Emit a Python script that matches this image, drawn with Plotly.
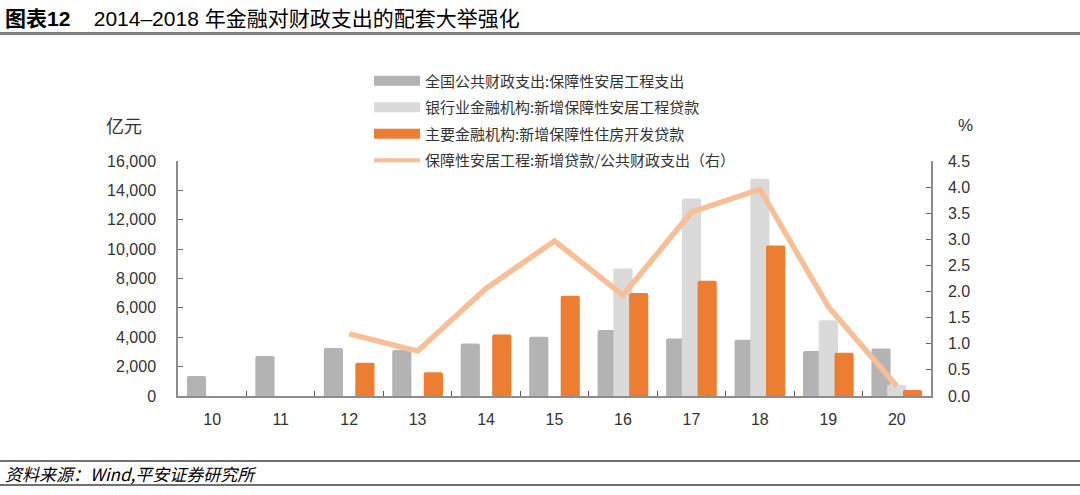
import plotly.graph_objects as go

categories = ["10", "11", "12", "13", "14", "15", "16", "17", "18", "19", "20"]
fiscal_spend = [1360, 2720, 3260, 3130, 3580, 4030, 4490, 3920, 3830, 3060, 3240]
bank_loans = [None, None, None, None, None, None, 8680, 13440, 14800, 5150, 750]
major_loans = [None, None, 2260, 1610, 4190, 6820, 7020, 7840, 10250, 2950, 410]
ratio = [None, None, 1.19, 0.86, 2.06, 2.97, 1.93, 3.52, 3.96, 1.71, 0.19]

names = [
    "全国公共财政支出:保障性安居工程支出",
    "银行业金融机构:新增保障性安居工程贷款",
    "主要金融机构:新增保障性住房开发贷款",
    "保障性安居工程:新增贷款/公共财政支出（右）",
]
C_GRAY = "#B3B3B3"
C_LGRAY = "#DADADA"
C_ORANGE = "#ED7D31"
C_LINE = "#F8BE96"

FONT = "Liberation Sans, Arial, Noto Sans CJK SC, sans-serif"
CJK = "Noto Sans CJK SC, Liberation Sans, sans-serif"

PH = 235.3  # plot height px (for placing header/footer decorations)


def py(px):
    return (396 - px) / PH


def px_x(px):
    return (px - 178) / 753


fig = go.Figure()
W = 0.28
for vals, col, off in [(fiscal_spend, C_GRAY, -0.37), (bank_loans, C_LGRAY, -0.14), (major_loans, C_ORANGE, 0.09)]:
    fig.add_trace(go.Bar(x=categories, y=vals, width=W, offset=off,
                         marker=dict(color=col, line=dict(width=0), cornerradius=2),
                         showlegend=False, hoverinfo="skip"))

fig.add_trace(go.Scatter(x=categories, y=ratio, yaxis="y2", mode="lines",
                         line=dict(color=C_LINE, width=5.5), showlegend=False))

# legend entries
for i, (nm, col, w) in enumerate([(names[0], C_GRAY, 11), (names[1], C_LGRAY, 11),
                                  (names[2], C_ORANGE, 11), (names[3], C_LINE, 4)]):
    fig.add_trace(go.Scatter(x=[None], y=[None], mode="lines", name=nm,
                             legendgroup=f"g{i}",
                             line=dict(color=col, width=w)))

fig.update_layout(
    width=1080, height=495,
    margin=dict(l=178, r=149, t=161, b=99),
    paper_bgcolor="white", plot_bgcolor="white",
    barmode="overlay",
    font=dict(family=FONT, size=16, color="#333333"),
    xaxis=dict(type="category", showline=True, linecolor="#8C8C8C", linewidth=1.5,
               ticks="inside", tickson="boundaries", ticklen=5, tickcolor="#555555",
               ticklabelstandoff=8,
               showgrid=False, zeroline=False, tickfont=dict(size=16, color="#333333")),
    yaxis=dict(range=[0, 16000], dtick=2000, tickformat=",d", showline=True,
               linecolor="#8C8C8C", linewidth=1.5, ticks="inside", ticklen=5,
               tickcolor="#666666", showgrid=False, zeroline=False,
               ticklabelstandoff=17,
               tickfont=dict(size=16, color="#333333")),
    yaxis2=dict(range=[0, 4.5], dtick=0.5, tickformat=".1f", overlaying="y", side="right",
                showline=True, linecolor="#8C8C8C", linewidth=1.5, ticks="inside",
                ticklen=5, tickcolor="#666666", showgrid=False, zeroline=False,
                ticklabelstandoff=12,
                tickfont=dict(size=16, color="#333333")),
    legend=dict(x=px_x(369), y=py(64), xanchor="left", yanchor="top", itemwidth=46,
                font=dict(family=CJK, size=15, color="#333333"),
                traceorder="grouped", tracegroupgap=4,
                bgcolor="rgba(0,0,0,0)", itemclick=False),
    showlegend=True,
)

fig.add_annotation(text="亿元", xref="paper", yref="paper", x=px_x(124), y=py(125),
                   xanchor="center", yanchor="middle",
                   showarrow=False, font=dict(family=CJK, size=18, color="#333333"))
fig.add_annotation(text="%", xref="paper", yref="paper", x=px_x(965), y=py(125),
                   xanchor="center", yanchor="middle",
                   showarrow=False, font=dict(family=FONT, size=17, color="#333333"))
fig.add_annotation(text="<b>图表12</b>    2014–2018 年金融对财政支出的配套大举强化",
                   xref="paper", yref="paper", x=px_x(3), y=py(18),
                   xanchor="left", yanchor="middle",
                   showarrow=False, font=dict(family=FONT, size=21, color="#000000"))
fig.add_annotation(text="<i>资料来源：Wind,平安证券研究所</i>",
                   xref="paper", yref="paper", x=px_x(3), y=py(474),
                   xanchor="left", yanchor="middle",
                   showarrow=False, font=dict(family=CJK, size=17, color="#000000"))

# header/footer rules
fig.add_shape(type="line", xref="paper", yref="paper", x0=px_x(0), x1=px_x(1080),
              y0=py(33), y1=py(33), line=dict(color="#7F7F7F", width=3))
fig.add_shape(type="line", xref="paper", yref="paper", x0=px_x(0), x1=px_x(1080),
              y0=py(461), y1=py(461), line=dict(color="#404040", width=1.5))
fig.add_shape(type="line", xref="paper", yref="paper", x0=px_x(0), x1=px_x(1080),
              y0=py(485), y1=py(485), line=dict(color="#404040", width=1.5))

fig.write_html("out.html", config={"displayModeBar": False},
               post_script="document.body.style.margin='0';")
